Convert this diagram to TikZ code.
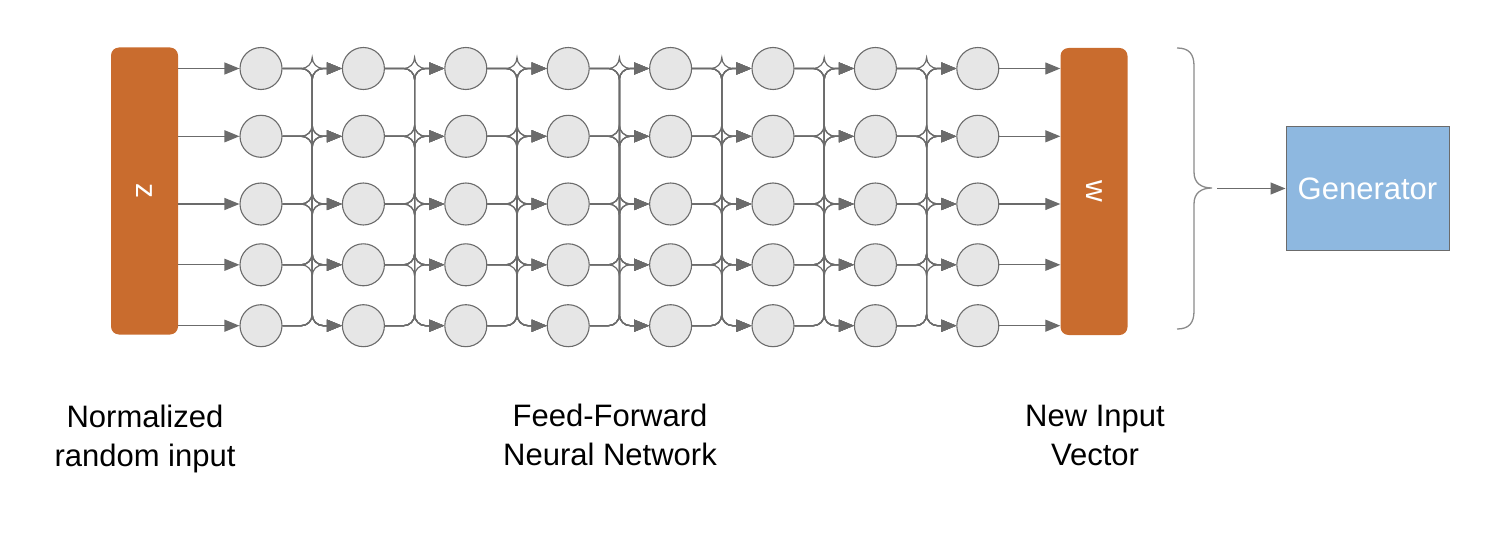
\documentclass[tikz,border=0pt]{standalone}
\usepackage{fontspec}
\setmainfont{Liberation Sans}
\usetikzlibrary{arrows.meta,calc}
\definecolor{barorange}{HTML}{C96C2E}
\definecolor{nodefill}{HTML}{E6E6E6}
\definecolor{linegray}{HTML}{6B6B6B}
\definecolor{genblue}{HTML}{8EB8E0}
\definecolor{bracegray}{HTML}{8A8A8A}
\tikzset{
  neuron/.style={circle, minimum size=42pt, inner sep=0pt, fill=nodefill, draw=linegray, line width=1.1pt},
  bar/.style={rectangle, rounded corners=8pt, fill=barorange, draw=none, minimum width=67pt, minimum height=287pt, inner sep=0pt},
  bartext/.style={text=white, font=\fontsize{30}{30}\selectfont, rotate=-90, inner sep=0pt},
  arr/.style={draw=linegray, line width=1.2pt, -{Triangle[length=15pt,width=12pt]}},
  conn/.style={arr, rounded corners=11pt},
  lbl/.style={align=center, font=\fontsize{31}{39}\selectfont, inner sep=0pt},
  genbox/.style={rectangle, fill=genblue, draw=linegray, line width=1pt, minimum width=163pt, minimum height=123pt, inner sep=0pt, text=white, font=\fontsize{31}{31}\selectfont}
}
\begin{document}
\begin{tikzpicture}[x=1pt,y=-1pt]
\useasboundingbox (0,0) rectangle (1498,540);
% bars
\node[bar] (z) at (144.5,191) {};
\node[bartext] (zt) at (z.center) {z};
\node[bar] (w) at (1094,191.5) {};
\node[bartext] (wt) at (w.center) {w};
% neurons
\foreach \k in {1,...,8}{
  \foreach \i/\y in {1/68.5,2/136.3,3/204,4/264.8,5/325.7}{
    \node[neuron] (c\k-\i) at ({261+102.4*(\k-1)},\y) {};
  }
}
% input arrows
\foreach \i in {1,...,5}{
  \draw[arr] (z.east |- c1-\i) -- (c1-\i);
  \draw[arr] (c8-\i) -- (w.west |- c8-\i);
}
% fully connected layers
\foreach \k in {1,...,7}{
  \pgfmathtruncatemacro{\kk}{\k+1}
  \coordinate (bus\k) at ($(c\k-1.east)!.5!(c\kk-1.west)$);
  \foreach \i in {1,...,5}{
    \foreach \j in {1,...,5}{
      \draw[conn] (c\k-\i.east) -- (bus\k |- c\k-\i) -- (bus\k |- c\kk-\j) -- (c\kk-\j.west);
    }
  }
}
% brace
\draw[bracegray, line width=1.3pt] (1177,48) .. controls (1189,48) and (1194,54) .. (1194,66) -- (1194,172) .. controls (1194,183) and (1201,188) .. (1212,188) .. controls (1201,188) and (1194,193) .. (1194,204) -- (1194,311) .. controls (1194,323) and (1189,329) .. (1177,329);
% generator
\node[genbox] (gen) at (1367.5,188.5) {Generator};
\coordinate (bt) at (1217,188.5);
\draw[arr] (bt) -- (gen);
% labels
\node[lbl] (l1) at (145,438.5) {Normalized\\random input};
\node[lbl] (l2) at (610,435) {Feed-Forward\\Neural Network};
\node[lbl] (l3) at (1095,435) {New Input\\Vector};
\end{tikzpicture}
\end{document}
